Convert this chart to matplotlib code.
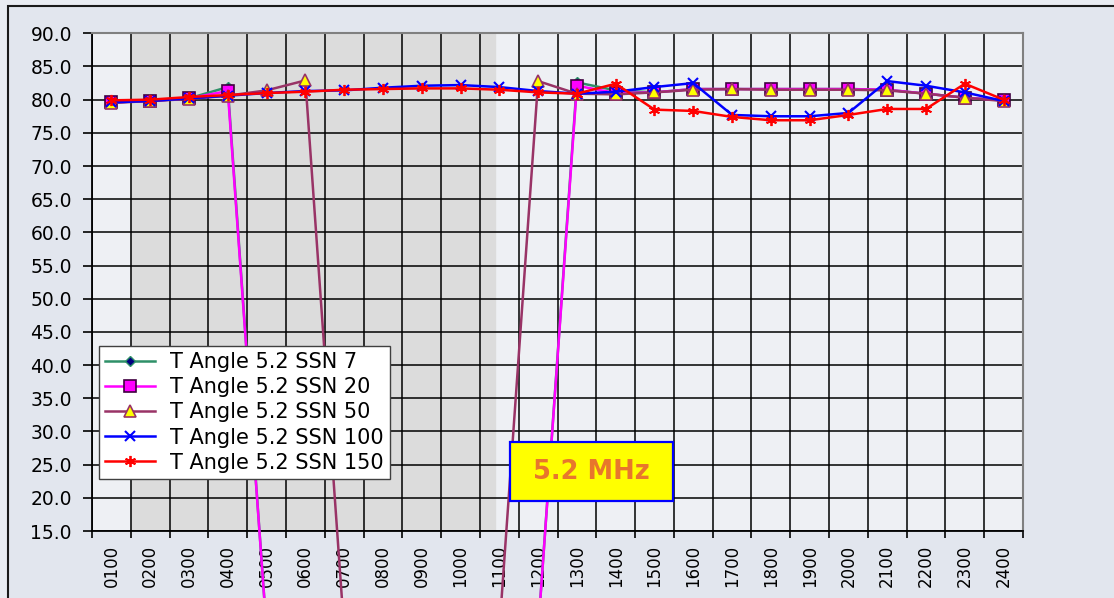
import matplotlib.pyplot as plt
from matplotlib.patches import Rectangle
from matplotlib.ticker import FormatStrFormatter

hours = ['0100', '0200', '0300', '0400', '0500', '0600', '0700', '0800',
         '0900', '1000', '1100', '1200', '1300', '1400', '1500', '1600',
         '1700', '1800', '1900', '2000', '2100', '2200', '2300', '2400']

ssn7 = [79.6, 79.8, 80.2, 81.9, 0, 0, 0, 0, 0, 0, 0, 0,
        82.6, 81.4, 81.1, 81.6, 81.6, 81.6, 81.6, 81.6, 81.5, 80.9, 80.3, 79.9]
ssn20 = [79.6, 79.8, 80.2, 81.3, 0, 0, 0, 0, 0, 0, 0, 0,
         82.1, 81.0, 81.1, 81.6, 81.6, 81.6, 81.6, 81.6, 81.5, 80.9, 80.3, 79.9]
ssn50 = [79.5, 79.8, 80.1, 80.6, 81.4, 82.9, 0, 0, 0, 0, 0, 82.8,
         80.9, 80.8, 81.1, 81.5, 81.6, 81.5, 81.5, 81.5, 81.4, 80.9, 80.3, 79.8]
ssn100 = [79.6, 79.8, 80.2, 80.6, 81.0, 81.3, 81.4, 81.8, 82.1, 82.2, 81.9, 81.3,
          80.9, 81.2, 81.9, 82.5, 77.7, 77.5, 77.5, 78.0, 82.8, 82.1, 81.1, 79.8]
ssn150 = [79.9, 80.0, 80.4, 80.7, 81.0, 81.2, 81.5, 81.6, 81.7, 81.7, 81.5, 81.1,
          80.9, 82.4, 78.5, 78.3, 77.4, 76.9, 76.9, 77.7, 78.6, 78.6, 82.4, 80.0]

fig = plt.figure(figsize=(11.14, 5.98), dpi=100, facecolor='#e9ecf2')
fig.patches.append(Rectangle((8 / 1114, -0.1), 1.2, 1.1 - 6 / 598,
                             transform=fig.transFigure, facecolor='#e2e6ee',
                             edgecolor='#1a1a1a', lw=1.5, zorder=-5))

ax = fig.add_axes([0.0826, 0.112, 0.8357, 0.8323])
ax.set_zorder(1)
ax.set_facecolor('#eef0f4')
ax.axvspan(0.5, 9.9, color='#dcdcdc', zorder=0)

x = list(range(len(hours)))
ax.plot(x, ssn7, color='#2e9068', lw=1.8, marker='D', ms=5, mfc='#000080',
        mec='#2e9068', clip_on=False, zorder=3, label='T Angle 5.2 SSN 7')
ax.plot(x, ssn20, color='#ff00ff', lw=1.8, marker='s', ms=9, mfc='#ff00ff',
        mec='#400040', mew=1.2, clip_on=False, zorder=3, label='T Angle 5.2 SSN 20')
ax.plot(x, ssn50, color='#993366', lw=1.8, marker='^', ms=9, mfc='#ffff00',
        mec='#993366', mew=1.2, clip_on=False, zorder=3, label='T Angle 5.2 SSN 50')
ax.plot(x, ssn100, color='#0000ff', lw=1.8, marker='x', ms=7, mew=1.5,
        clip_on=False, zorder=3, label='T Angle 5.2 SSN 100')
ax.plot(x, ssn150, color='#ff0000', lw=1.8, marker=(6, 2, 0), ms=8, mew=1.3,
        clip_on=False, zorder=3, label='T Angle 5.2 SSN 150')

ax.set_xlim(-0.5, len(hours) - 0.5)
ax.set_ylim(15, 90)
ax.set_yticks(range(15, 91, 5))
ax.yaxis.set_major_formatter(FormatStrFormatter('%.1f'))
ax.set_xticks([i - 0.5 for i in range(len(hours) + 1)])
ax.set_xticklabels([])
ax.set_xticks(x, minor=True)
ax.set_xticklabels(hours, minor=True, rotation=90, fontsize=12)
ax.tick_params(axis='x', which='minor', length=0, pad=10)
ax.tick_params(axis='x', which='major', length=5, width=1.2)
ax.tick_params(axis='y', length=6.5, width=1.2, pad=8, labelsize=13.5)
ax.grid(True, which='major', color='black', lw=1.1)
ax.set_axisbelow(True)

for s in ['top', 'right']:
    ax.spines[s].set_color('#808080')
    ax.spines[s].set_linewidth(1.5)
for s in ['left', 'bottom']:
    ax.spines[s].set_color('black')
    ax.spines[s].set_linewidth(1.3)

leg = ax.legend(loc='lower left', bbox_to_anchor=(0.0075, 0.1045), borderaxespad=0,
                fancybox=False, framealpha=1, edgecolor='#404040',
                prop={'family': 'DejaVu Sans', 'size': 15}, handlelength=2.4,
                labelspacing=0.25, borderpad=0.3, handletextpad=0.7)
leg.set_zorder(5)
leg.get_frame().set_linewidth(1.0)

ax.add_patch(Rectangle((0.449, 0.060), 0.175, 0.119, transform=ax.transAxes,
                       facecolor='#ffff00', edgecolor='#0000ff', lw=1.6,
                       zorder=6, clip_on=False))
ax.text(0.5365, 0.1195, '5.2 MHz', transform=ax.transAxes, ha='center', va='center',
        fontsize=18.5, fontweight='bold', color='#e8762c', zorder=7)

fig.savefig('out.png', dpi=100, facecolor=fig.get_facecolor())
